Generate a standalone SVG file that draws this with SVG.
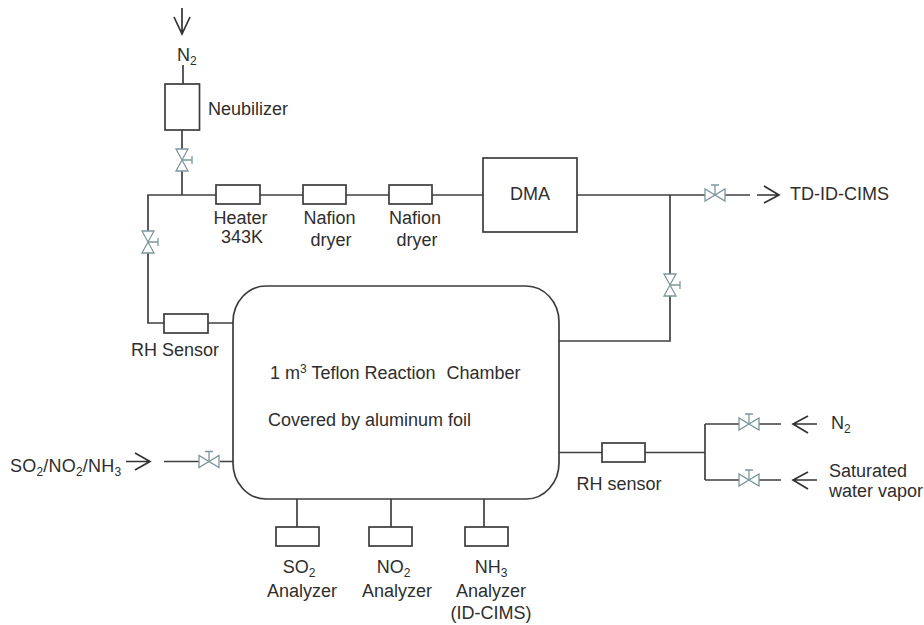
<svg xmlns="http://www.w3.org/2000/svg" width="924" height="625" viewBox="0 0 924 625">
<style>
text{font-family:"Liberation Sans",Arial,sans-serif;font-size:18px;fill:#2e2e2e}
.m{text-anchor:middle}
.s{font-size:12px}
.sh{fill:none;stroke:#3c3c3c;stroke-width:1.7}
.l{fill:none;stroke:#404040;stroke-width:1.7}
.a{fill:none;stroke:#333;stroke-width:1.7}
.v{fill:#fff;stroke:#7d979d;stroke-width:1.3}
</style>
<defs>
<g id="vh"><path class="v" d="M-10-6V6L10-6V6Z"/><path class="v" d="M0 0V-10M-4-10H4"/></g>
<g id="vv"><path class="v" d="M-6-11H6L-6 11H6Z"/><path class="v" d="M0 0H10M10-4V4"/></g>
</defs>
<rect width="924" height="625" fill="#fff"/>
<g id="connectors">
<path class="l" d="M183 65V84M182 130V150M182 171V195M148 232V195H216M260 195H303M346 195H389M432 195H483M577 195H705M725 195H750M670 195V274M670 296V341H559M148 253V323H164M208 323H233M559 452.500H602M645 452.500H705M705 424V480M705 424H739M759 424H781M705 480H739M759 480H781M164 461.500H199M220 461.500H233M297 499V527M391 499V527M484 499V527"/>
<path class="a" d="M182 8V34M174 17L182 34L190 17M757 195H778M764 186L779 195L764 203M793 424H817M808 416L793 424L808 433M793 480H817M808 472L793 480L808 489M126 461.500H149M135 453L150 461.500L135 470"/>
</g>
<g id="valves">
<use href="#vv" x="182" y="160"/>
<use href="#vv" x="148" y="242"/>
<use href="#vv" x="670" y="285"/>
<use href="#vh" x="715" y="195"/>
<use href="#vh" x="749" y="424"/>
<use href="#vh" x="749" y="480"/>
<use href="#vh" x="209" y="461.500"/>
</g>
<g id="n2-top"><text x="177" y="61">N<tspan class="s" dy="4">2</tspan></text></g>
<g id="neubilizer"><rect class="sh" x="165" y="84" width="34.500" height="46"/><text x="208" y="115">Neubilizer</text></g>
<g id="heater"><rect class="sh" x="216" y="185" width="44" height="19"/><text x="240.500" y="224" class="m">Heater</text><text x="242" y="243" class="m">343K</text></g>
<g id="nafion1"><rect class="sh" x="303" y="185" width="43" height="19"/><text x="329.500" y="224" class="m">Nafion</text><text x="331" y="246" class="m">dryer</text></g>
<g id="nafion2"><rect class="sh" x="389" y="185" width="43" height="19"/><text x="415" y="224" class="m">Nafion</text><text x="417" y="246" class="m">dryer</text></g>
<g id="dma"><rect class="sh" x="483" y="158" width="94" height="74"/><text x="530" y="200" class="m">DMA</text></g>
<g id="td-id-cims"><text x="790" y="200">TD-ID-CIMS</text></g>
<g id="rh-left"><rect class="sh" x="164" y="314" width="44" height="19"/><text x="175" y="356" class="m">RH Sensor</text></g>
<g id="chamber"><rect class="sh" x="233" y="286" width="326" height="213" rx="33" ry="36"/>
<text x="270" y="379">1 m<tspan class="s" dy="-6">3</tspan><tspan dy="6"> Teflon Reaction</tspan><tspan dx="11">Chamber</tspan></text>
<text x="268" y="426">Covered by aluminum foil</text></g>
<g id="rh-right"><rect class="sh" x="602" y="443" width="43" height="19"/><text x="619" y="490" class="m">RH sensor</text></g>
<g id="n2-right"><text x="831" y="429">N<tspan class="s" dy="4">2</tspan></text></g>
<g id="water"><text x="829" y="477">Saturated</text><text x="829" y="497">water vapor</text></g>
<g id="inlet"><text x="10" y="472" letter-spacing="0.200">SO<tspan class="s" dy="4">2</tspan><tspan dy="-4">/NO</tspan><tspan class="s" dy="4">2</tspan><tspan dy="-4">/NH</tspan><tspan class="s" dy="4">3</tspan></text></g>
<g id="so2"><rect class="sh" x="276" y="527" width="43" height="19"/><text x="299" y="573" class="m">SO<tspan class="s" dy="4">2</tspan></text><text x="302" y="597" class="m">Analyzer</text></g>
<g id="no2"><rect class="sh" x="369" y="527" width="43" height="19"/><text x="393.500" y="573" class="m">NO<tspan class="s" dy="4">2</tspan></text><text x="397" y="597" class="m">Analyzer</text></g>
<g id="nh3"><rect class="sh" x="465" y="527" width="43" height="19"/><text x="491" y="573" class="m">NH<tspan class="s" dy="4">3</tspan></text><text x="491" y="597" class="m">Analyzer</text><text x="491" y="619" class="m">(ID-CIMS)</text></g>
</svg>
